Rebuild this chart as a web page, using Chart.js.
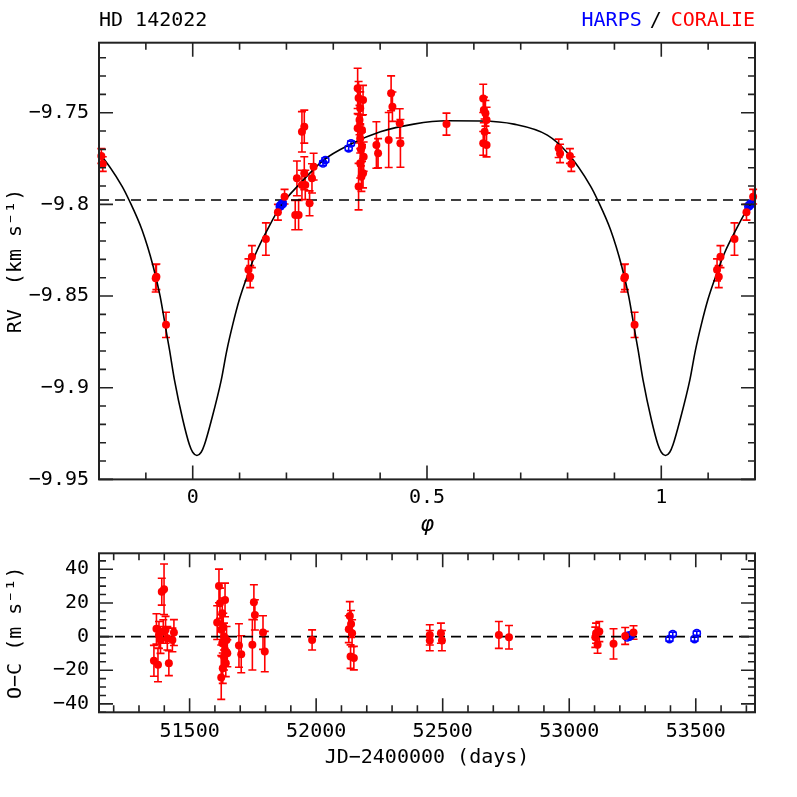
<!DOCTYPE html>
<html><head><meta charset="utf-8">
<script src="https://cdn.jsdelivr.net/npm/chart.js@4/dist/chart.umd.min.js"></script>
<style>
html,body{margin:0;padding:0;background:#fff;}
#wrap{position:relative;width:797px;height:797px;overflow:hidden;}
canvas{position:absolute;left:0;}
#c1{top:0;} #c2{top:520px;}
</style></head><body>
<div id="wrap">
<canvas id="c1" width="797" height="540"></canvas>
<canvas id="c2" width="797" height="277"></canvas>
</div>
<script>
// ---------------- DATA ----------------
const starName = 'HD 142022';
// CORALIE radial velocities folded in orbital phase (km/s)
const coraliePhase = [0.781,0.784,0.805,0.808,0.921,0.9225,0.943,
  0.119,0.1227,0.1263,0.1562,0.1818,0.196,
  0.2188,0.226,0.2331,0.2381,0.2224,0.2381,0.2402,0.2331,0.2494,0.258,0.2545,
  0.352,0.3635,0.3575,0.356,0.3613,0.352,0.3575,0.3613,0.3648,0.3575,0.3635,0.360,0.354,0.354,0.359,
  0.392,0.3956,0.4183,0.4234,0.4262,0.4418,0.4433,0.5416,
  0.620,0.6213,0.6247,0.6271,0.623,0.620,0.6271];
const coralieRV = [-9.7694,-9.7722,-9.7736,-9.7780,-9.8403,-9.8395,-9.8657,
  -9.8357,-9.8394,-9.8285,-9.8189,-9.8043,-9.7958,
  -9.8058,-9.8058,-9.7604,-9.7576,-9.7858,-9.7830,-9.7894,-9.7894,-9.7994,-9.7794,-9.7858,
  -9.7367,-9.7431,-9.7476,-9.7540,-9.7594,-9.7585,-9.7640,-9.7685,-9.7740,-9.7776,-9.7830,-9.7849,-9.7903,-9.7420,-9.7700,
  -9.7676,-9.7721,-9.7649,-9.7394,-9.7467,-9.7558,-9.7667,-9.7562,
  -9.7422,-9.7485,-9.7503,-9.7540,-9.7604,-9.7667,-9.7676];
const coralieErr = [0.005,0.005,0.004,0.004,0.0075,0.007,0.0069,
  0.006,0.006,0.006,0.0088,0.0043,0.004,
  0.008,0.008,0.011,0.009,0.0095,0.009,0.008,0.008,0.0068,0.0073,0.008,
  0.011,0.008,0.009,0.008,0.008,0.008,0.008,0.008,0.008,0.008,0.008,0.008,0.0127,0.009,0.009,
  0.0127,0.008,0.015,0.0095,0.008,0.008,0.013,0.006,
  0.0077,0.007,0.007,0.007,0.007,0.0065,0.0065];
// HARPS radial velocities folded in orbital phase (km/s)
const harpsPhase = [0.186,0.188,0.190,0.192,0.278,0.283,0.3328,0.3379];
const harpsRV = [-9.8012,-9.8005,-9.8000,-9.7995,-9.7776,-9.7758,-9.7694,-9.7667];
const harpsErr = [0.0012,0.0012,0.0012,0.0012,0.0012,0.0012,0.0012,0.0012];
// Keplerian model (one period)
const curvePhase = [0.000,0.009,0.018,0.025,0.040,0.061,0.0725,0.085,0.100,0.1165,0.135,0.159,0.1868,0.2295,0.2793,0.3364,0.4005,0.4717,0.5431,0.6142,0.6854,0.7568,0.800,0.849,0.8641,0.8919,0.9154,0.9303,0.943,0.9505,0.961,0.979,0.993];
const curveRV = [-9.9352,-9.9370,-9.9352,-9.9311,-9.9176,-9.8957,-9.8800,-9.8660,-9.8515,-9.8390,-9.8265,-9.8140,-9.8012,-9.7885,-9.7758,-9.7672,-9.7604,-9.7562,-9.7544,-9.7545,-9.7562,-9.7622,-9.7720,-9.7900,-9.7976,-9.8140,-9.8336,-9.8499,-9.8685,-9.8794,-9.8957,-9.9176,-9.9311];
const gammaRV = -9.7976;
// Residuals vs time (m/s)
const coralieJD = [51359,51375,51369,51390,51399,51379,51385,51396,51405,51412,51418,51432,51438,
  51616,51620,51609,51625,51629,51640,51633,51636,51629,51640,51636,51643,51625,51631,51646,51649,
  51695,51704,51754,51758,51748,51790,51797,51984,
  52133,52129,52138,52142,52136,52149,52449,52449,52493,52497,52722,52762,
  53106,53119,53103,53112,53175,53221,53254];
const coralieOC = [-14.4,-16.8,4.6,26.7,28.1,1.0,-2,3.0,4,-1,-15.8,-2,2.4,
  30.1,19.8,8.3,4,13.9,21.8,5.9,0,-4,-7.9,-11.9,-15.8,-24.3,-18.8,-2,-9.9,
  -5.3,-10.5,20.4,12.9,-4.9,2.4,-8.9,-2,
  12.3,4.4,7.5,2,-11.9,-12.8,1,-2.4,2,-2.4,1,-0.4,
  2,3,-0.4,-4.9,-4.3,0.4,2.4];
const coralieOCErr = [9.2,10,9,8,15,8,8,7,8,7,7.4,7,7.7,
  10,9,10,9,9,10,8,8,8,8,8,8,13,9,8,8,
  12.9,11,10.4,9,15,10,12,6,
  8.5,8,8,8,7,7,6,6,6,6,8,7,
  6,6,6,5,9,5,4];
const harpsJD = [53229,53233,53238,53243,53396,53409,53495,53504];
const harpsOC = [-0.5,0.5,0,0.8,-1.5,1.4,-1.5,2];
const harpsOCErr = [1,1,1,1,1.2,1.2,1.2,1.2];
// Axes
const phaseRange = [-0.2, 1.2];
const rvRange = [-9.95, -9.7118];
const jdRange = [51142, 53734];
const ocRange = [-45, 49.5];
const rvTicks = [-9.95,-9.9,-9.85,-9.8,-9.75];
const rvTickLabels = ['\u22129.95','\u22129.9','\u22129.85','\u22129.8','\u22129.75'];
const phaseTicks = [0,0.5,1];
const phaseTickLabels = ['0','0.5','1'];
const ocTicks = [-40,-20,0,20,40];
const ocTickLabels = ['\u221240','\u221220','0','20','40'];
const jdTicks = [51500,52000,52500,53000,53500];
const jdTickLabels = ['51500','52000','52500','53000','53500'];

// ---------------- HELPERS ----------------
const RED = '#ff0000', BLUE = '#0000ff';
function fold(ph, val, err, lo, hi) {
  const out = [];
  ph.forEach((p, i) => {
    [-1, 0, 1].forEach(s => {
      const q = p + s;
      if (q >= lo && q <= hi) out.push({x: q, y: val[i], e: err ? err[i] : 0});
    });
  });
  return out.sort((a, b) => a.x - b.x);
}
function series(xs, ys, es) { return xs.map((x, i) => ({x: x, y: ys[i], e: es[i]})); }

Chart.defaults.font.family = '"DejaVu Sans Mono", monospace';
Chart.defaults.font.size = 20;
Chart.defaults.color = '#000';

const errorBars = {
  id: 'errorBars',
  beforeDatasetsDraw(chart) {
    const ctx = chart.ctx, xs = chart.scales.x, ys = chart.scales.y;
    chart.data.datasets.forEach(ds => {
      if (!ds.errorColor) return;
      ctx.save();
      ctx.strokeStyle = ds.errorColor; ctx.lineWidth = 1.6;
      ctx.beginPath();
      ds.data.forEach(d => {
        const x = xs.getPixelForValue(d.x);
        const y1 = ys.getPixelForValue(d.y - d.e), y2 = ys.getPixelForValue(d.y + d.e);
        ctx.moveTo(x, y1); ctx.lineTo(x, y2);
        ctx.moveTo(x - 4, y1); ctx.lineTo(x + 4, y1);
        ctx.moveTo(x - 4, y2); ctx.lineTo(x + 4, y2);
      });
      ctx.stroke();
      ctx.restore();
    });
  }
};

function frameTicks(xMajor, xMinor, yMajor, yMinor) {
  return {
    id: 'frameTicks',
    afterDraw(chart) {
      const ctx = chart.ctx, a = chart.chartArea, xs = chart.scales.x, ys = chart.scales.y;
      ctx.save();
      ctx.strokeStyle = '#222'; ctx.lineWidth = 1.6;
      ctx.beginPath();
      const doX = (step, len) => {
        for (let k = Math.ceil(xs.min / step - 1e-6); k * step <= xs.max + 1e-9; k++) {
          const px = xs.getPixelForValue(k * step);
          ctx.moveTo(px, a.bottom); ctx.lineTo(px, a.bottom - len);
          ctx.moveTo(px, a.top); ctx.lineTo(px, a.top + len);
        }
      };
      const doY = (step, len) => {
        for (let k = Math.ceil(ys.min / step - 1e-6); k * step <= ys.max + 1e-9; k++) {
          const py = ys.getPixelForValue(k * step);
          ctx.moveTo(a.left, py); ctx.lineTo(a.left + len, py);
          ctx.moveTo(a.right, py); ctx.lineTo(a.right - len, py);
        }
      };
      doX(xMinor, 7); doX(xMajor, 14); doY(yMinor, 7); doY(yMajor, 14);
      ctx.stroke();
      ctx.lineWidth = 2;
      ctx.strokeRect(a.left, a.top, a.right - a.left, a.bottom - a.top);
      ctx.restore();
    }
  };
}

const header = {
  id: 'header',
  afterDraw(chart) {
    const ctx = chart.ctx;
    ctx.save();
    ctx.font = '20px "DejaVu Sans Mono", monospace';
    ctx.textBaseline = 'alphabetic';
    ctx.fillStyle = '#000'; ctx.textAlign = 'left';
    ctx.fillText(starName, chart.chartArea.left, 26);
    const right = chart.chartArea.right;
    ctx.textAlign = 'right'; ctx.fillStyle = RED;
    ctx.fillText('CORALIE', right, 26);
    const cStart = right - ctx.measureText('CORALIE').width;
    ctx.textAlign = 'center'; ctx.fillStyle = '#000';
    ctx.fillText('/', cStart - 15, 26);
    ctx.textAlign = 'right'; ctx.fillStyle = BLUE;
    ctx.fillText('HARPS', cStart - 29, 26);
    ctx.restore();
  }
};

function axisCfg(range, ticks, labels, title, isX, fitSize, tickPad, titlePad, titleFont) {
  return {
    type: 'linear', min: range[0], max: range[1],
    grid: {display: false, drawTicks: false}, border: {display: false},
    afterBuildTicks: s => { s.ticks = ticks.map(v => ({value: v})); },
    ticks: {padding: tickPad, autoSkip: false, maxRotation: 0, color: '#000',
      callback: (v, i) => labels[i]},
    title: {display: true, text: title, color: '#000', font: titleFont || {size: 20}, padding: titlePad},
    afterFit: s => { if (isX) s.height = fitSize; else s.width = fitSize; }
  };
}

// ---------------- TOP PANEL ----------------
const curveData = fold(curvePhase, curveRV, null, -0.3, 1.3);
new Chart(document.getElementById('c1'), {
  type: 'scatter',
  data: {datasets: [
    {label: 'CORALIE', data: fold(coraliePhase, coralieRV, coralieErr, phaseRange[0], phaseRange[1]),
     pointRadius: 4, pointBackgroundColor: RED, pointBorderWidth: 0, errorColor: RED, clip: false},
    {label: 'HARPS', data: fold(harpsPhase, harpsRV, harpsErr, phaseRange[0], phaseRange[1]),
     pointRadius: 3.6, pointBackgroundColor: 'rgba(255,255,255,0)', pointBorderColor: BLUE, pointBorderWidth: 1.6, errorColor: BLUE, clip: false},
    {label: 'model', type: 'line', data: curveData, showLine: true, pointRadius: 0, borderColor: '#000', borderWidth: 1.6,
     cubicInterpolationMode: 'monotone'},
    {label: 'gamma', type: 'line', data: [{x: phaseRange[0], y: gammaRV}, {x: phaseRange[1], y: gammaRV}],
     pointRadius: 0, borderColor: '#000', borderWidth: 1.6, borderDash: [10, 6]}
  ]},
  options: {
    responsive: false, animation: false, events: [],
    layout: {padding: {left: 0, right: 42, top: 42.7, bottom: 0}},
    plugins: {legend: {display: false}, tooltip: {enabled: false}},
    scales: {
      x: axisCfg(phaseRange, phaseTicks, phaseTickLabels, '\u03C6', true, 540 - 479.4, 6, {top: 0, bottom: 2}, {size: 22, style: 'italic'}),
      y: axisCfg(rvRange, rvTicks, rvTickLabels, 'RV  (km s\u207B\u00B9)', false, 99, 10, {top: 4, bottom: 0})
    }
  },
  plugins: [errorBars, frameTicks(0.5, 0.1, 0.05, 0.01), header]
});

// ---------------- BOTTOM PANEL ----------------
new Chart(document.getElementById('c2'), {
  type: 'scatter',
  data: {datasets: [
    {label: 'CORALIE', data: series(coralieJD, coralieOC, coralieOCErr),
     pointRadius: 4, pointBackgroundColor: RED, pointBorderWidth: 0, errorColor: RED, clip: false},
    {label: 'HARPS', data: series(harpsJD, harpsOC, harpsOCErr),
     pointRadius: 3.6, pointBackgroundColor: 'rgba(255,255,255,0)', pointBorderColor: BLUE, pointBorderWidth: 1.6, errorColor: BLUE, clip: false},
    {label: 'zero', type: 'line', data: [{x: jdRange[0], y: 0}, {x: jdRange[1], y: 0}],
     pointRadius: 0, borderColor: '#000', borderWidth: 1.6, borderDash: [10, 6]}
  ]},
  options: {
    responsive: false, animation: false, events: [],
    layout: {padding: {left: 0, right: 42, top: 33.3, bottom: 0}},
    plugins: {legend: {display: false}, tooltip: {enabled: false}},
    scales: {
      x: axisCfg(jdRange, jdTicks, jdTickLabels, 'JD\u22122400000 (days)', true, 277 - 192.3, 7, {top: 0, bottom: 27}),
      y: axisCfg(ocRange, ocTicks, ocTickLabels, 'O\u2212C (m s\u207B\u00B9)', false, 99, 10, {top: 4, bottom: 0})
    }
  },
  plugins: [errorBars, frameTicks(500, 100, 20, 5)]
});
</script>
</body></html>
